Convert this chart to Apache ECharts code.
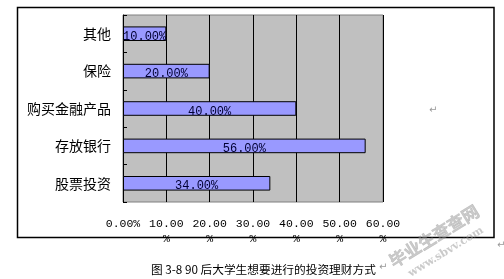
<!DOCTYPE html>
<html><head><meta charset="utf-8">
<script src="https://cdn.jsdelivr.net/npm/echarts@6/dist/echarts.min.js"></script>
<style>html,body{margin:0;padding:0;background:#fff}#c{width:504px;height:279px}</style>
</head><body><div id="c"></div>
<script>
const categories = ['其他', '保险', '购买金融产品', '存放银行', '股票投资'];
const values = [10, 20, 40, 56, 34];
const xTicks = [0, 10, 20, 30, 40, 50, 60];
const caption = '图 3-8 90 后大学生想要进行的投资理财方式';

const chart = echarts.init(document.getElementById('c'));
chart.setOption({
  animation: false,
  backgroundColor: '#ffffff',
  title: {
    text: caption, left: 146, top: 259,
    textStyle: {fontFamily: 'Noto Sans CJK SC', fontSize: 11.7, fontWeight: 'normal', color: '#000'}
  },
  grid: {left: 123, top: 15, width: 260, height: 187, show: true, backgroundColor: '#C0C0C0', borderColor: '#808080', borderWidth: 1},
  xAxis: {
    type: 'value', min: xTicks[0], max: xTicks[xTicks.length - 1], interval: 10,
    axisLine: {show: false}, axisTick: {show: false},
    splitLine: {show: true, lineStyle: {color: '#000', width: 1}},
    axisLabel: {
      margin: 14, lineHeight: 15,
      fontFamily: 'Liberation Mono', fontSize: 11.5, color: '#000',
      formatter: v => v === 0 ? '0.00%' : v.toFixed(2) + '\n%'
    }
  },
  yAxis: {
    type: 'category', data: categories, inverse: true,
    axisLine: {show: true, lineStyle: {color: '#000', width: 1}},
    axisTick: {show: true, inside: true, length: 4, lineStyle: {color: '#000'}},
    axisLabel: {margin: 12, fontFamily: 'Noto Sans CJK SC', fontSize: 14, color: '#000'}
  },
  series: [{
    type: 'bar', data: values, barWidth: '39%',
    itemStyle: {color: '#9999FF', borderColor: '#000', borderWidth: 1},
    label: {
      show: true, position: 'inside', offset: [0, 3],
      fontFamily: 'Liberation Mono', fontSize: 12, color: '#000033',
      formatter: p => p.value.toFixed(2) + '%'
    }
  }],
  graphic: [
    {type: 'rect', shape: {x: 17.5, y: 7.5, width: 476.5, height: 230}, style: {fill: 'none', stroke: '#000', lineWidth: 1.5}, z: 100},
    {type: 'text', left: 429, top: 105, style: {text: '↵', fill: '#999', font: '10px DejaVu Sans'}},
    {type: 'text', left: 497, top: 240, style: {text: '↵', fill: '#999', font: '10px DejaVu Sans'}},
    {type: 'text', left: 379, top: 262, style: {text: '↵', fill: '#999', font: '10px DejaVu Sans'}},
    {type: 'text', x: 434, y: 236, rotation: 0.55, style: {text: '毕业生查查网', fill: 'rgba(150,150,150,0.5)', stroke: 'rgba(120,120,120,0.35)', lineWidth: 0.5, font: 'bold 17px "Noto Sans CJK SC"', align: 'center', verticalAlign: 'middle'}, z: 101},
    {type: 'text', x: 446, y: 252, rotation: 0.55, style: {text: 'www.sbvv.com', fill: 'rgba(150,150,150,0.5)', font: 'bold 11px "DejaVu Serif"', align: 'center', verticalAlign: 'middle'}, z: 101}
  ]
});
</script></body></html>
